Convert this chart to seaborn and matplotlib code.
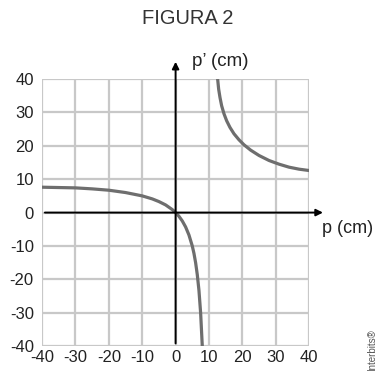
import pandas as pd
import seaborn as sns
import matplotlib.pyplot as plt

# Pontos (p, p')
p_esq = [-40, -35, -30, -25, -20, -15, -10, -7, -5, -3, -1, 0, 1, 2, 3, 4, 5, 5.5, 6, 6.5, 7, 7.5, 8]
pl_esq = [7.6, 7.5, 7.4, 7.1, 6.7, 6.0, 5.0, 4.1, 3.3, 2.3, 0.9, 0, -1.1, -2.5, -4.3, -6.7, -10, -12.2, -15, -18.6, -23.3, -30, -40]

p_dir = [12.6, 12.9, 13.3, 13.8, 14.5, 15.3, 16.3, 17.5, 19, 20.5, 22.5, 25, 28, 31, 34, 37, 40]
pl_dir = [40, 37, 34.5, 32, 29.6, 27.5, 25.5, 23.6, 21.8, 20.3, 18.7, 17.1, 15.6, 14.5, 13.6, 13.0, 12.6]

ticks = [-40, -30, -20, -10, 0, 10, 20, 30, 40]

df = pd.concat([
    pd.DataFrame({'p': p_esq, 'pl': pl_esq, 'ramo': 'esq'}),
    pd.DataFrame({'p': p_dir, 'pl': pl_dir, 'ramo': 'dir'}),
])

sns.set_style('white')
plt.rcParams['font.family'] = ['Liberation Sans', 'DejaVu Sans']
plt.rcParams['axes.unicode_minus'] = False

fig = plt.figure(figsize=(3.76, 3.71), dpi=100)
ax = fig.add_axes([0.112, 0.067, 0.71, 0.72])

# grade
for t in ticks:
    ax.axvline(t, color='#c8c8c8', lw=1.6, zorder=0)
    ax.axhline(t, color='#c8c8c8', lw=1.6, zorder=0)

sns.lineplot(data=df, x='p', y='pl', units='ramo', estimator=None, sort=False,
             color='#6e6e6e', lw=2.3, ax=ax, zorder=3)

ax.set_xlim(-40, 40)
ax.set_ylim(-40, 40)
ax.set_xticks(ticks)
ax.set_yticks(ticks)
ax.tick_params(length=0, labelsize=12, colors='#222222')
ax.tick_params(axis='y', pad=6)
ax.tick_params(axis='x', pad=3)
for s in ax.spines.values():
    s.set_visible(False)
ax.set_xlabel('')
ax.set_ylabel('')

# eixos com setas
ax.annotate('', xy=(45, 0), xytext=(-40, 0), annotation_clip=False,
            arrowprops=dict(arrowstyle='-|>', color='black', lw=1.4, mutation_scale=10))
ax.annotate('', xy=(0, 46), xytext=(0, -40), annotation_clip=False,
            arrowprops=dict(arrowstyle='-|>', color='black', lw=1.4, mutation_scale=10))

fig.text(0.5, 0.95, 'FIGURA 2', ha='center', va='center', fontsize=14.5, color='#333333')
fig.text(0.51, 0.833, 'p\u2019 (cm)', ha='left', va='center', fontsize=13.5, color='#222222')
fig.text(0.857, 0.385, 'p (cm)', ha='left', va='center', fontsize=13, color='#222222')
fig.text(0.99, 0.057, 'Interbits\u00ae', ha='center', va='center', fontsize=7,
         rotation=90, color='#555555')

plt.savefig('out.png', dpi=100)
